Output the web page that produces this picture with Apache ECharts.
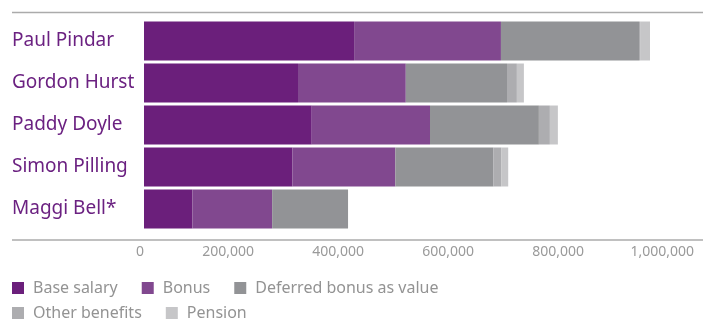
<!DOCTYPE html>
<html>
<head>
<meta charset="utf-8">
<script src="https://cdn.jsdelivr.net/npm/echarts@6/dist/echarts.min.js"></script>
<style>
  html, body { margin: 0; padding: 0; background: #fff; }
  #chart { width: 703px; height: 323px; }
</style>
</head>
<body>
<div id="chart"></div>
<script>
// directors' pay
var names = ['Paul Pindar', 'Gordon Hurst', 'Paddy Doyle', 'Simon Pilling', 'Maggi Bell*'];
var baseSalary = [382000, 280000, 305000, 270000, 88000];
var bonus = [267000, 196000, 215000, 187000, 145000];
var deferredBonus = [251000, 184000, 198000, 178000, 138000];
var otherBenefits = [2000, 18000, 20000, 14500, 0];
var pension = [18000, 12700, 14500, 12700, 0];
var seriesNames = ['Base salary', 'Bonus', 'Deferred bonus as value', 'Other benefits', 'Pension'];
var seriesColors = ['#6b1f7b', '#81488f', '#929396', '#adadb0', '#c6c6c8'];

var font = 'Noto Sans';

var chart = echarts.init(document.getElementById('chart'));

var dataSets = [baseSalary, bonus, deferredBonus, otherBenefits, pension];
var series = [];
for (var i = 0; i < dataSets.length; i++) {
  series.push({
    name: seriesNames[i],
    type: 'bar',
    stack: 'pay',
    barWidth: 39,
    itemStyle: { color: seriesColors[i] },
    data: dataSets[i]
  });
}

var legendText = { color: '#939393', fontFamily: font, fontSize: 16, padding: [0, 0, 0, 4] };

chart.setOption({
  animation: false,
  grid: { left: 144, right: 9, top: 20, bottom: 93 },
  xAxis: {
    type: 'value',
    min: 0,
    max: 1000000,
    interval: 200000,
    axisLine: { show: false },
    axisTick: { show: false },
    splitLine: { show: false },
    axisLabel: {
      color: '#9a9a9a',
      fontFamily: font,
      fontSize: 14,
      margin: 15,
      align: 'right',
      formatter: function (v) { return v.toLocaleString('en-GB'); }
    }
  },
  yAxis: {
    type: 'category',
    data: names,
    inverse: true,
    axisLine: { show: false },
    axisTick: { show: false },
    axisLabel: {
      color: '#6b2181',
      fontFamily: font,
      fontSize: 19,
      align: 'left',
      margin: 132
    }
  },
  legend: [
    {
      left: 12,
      top: 280,
      padding: 0,
      itemWidth: 12,
      itemHeight: 12,
      itemGap: 24,
      icon: 'rect',
      textStyle: legendText,
      data: seriesNames.slice(0, 3)
    },
    {
      left: 12,
      top: 305,
      padding: 0,
      itemWidth: 12,
      itemHeight: 12,
      itemGap: 24,
      icon: 'rect',
      textStyle: legendText,
      data: seriesNames.slice(3)
    }
  ],
  graphic: [
    { type: 'line', shape: { x1: 12, y1: 12.5, x2: 703, y2: 12.5 }, style: { stroke: '#ababab', lineWidth: 1.5 } },
    { type: 'line', shape: { x1: 12, y1: 240, x2: 703, y2: 240 }, style: { stroke: '#ababab', lineWidth: 1.5 } }
  ],
  series: series
});
</script>
</body>
</html>
